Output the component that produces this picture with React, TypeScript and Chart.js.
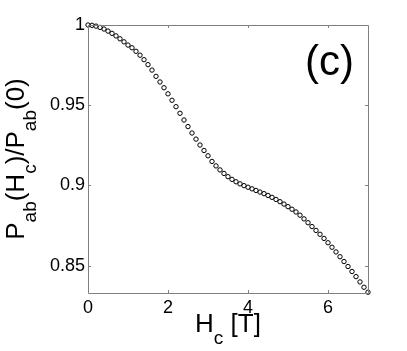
import React, { useEffect, useRef } from "react";
import { Chart, registerables } from "chart.js";

Chart.register(...registerables);

const fieldH: number[] = [
  0.0, 0.1, 0.2, 0.3, 0.4, 0.5, 0.6, 0.7, 0.8, 0.9,
  1.0, 1.1, 1.2, 1.3, 1.4, 1.5, 1.6, 1.7, 1.8, 1.9,
  2.0, 2.1, 2.2, 2.3, 2.4, 2.5, 2.6, 2.7, 2.8, 2.9,
  3.0, 3.1, 3.2, 3.3, 3.4, 3.5, 3.6, 3.7, 3.8, 3.9,
  4.0, 4.1, 4.2, 4.3, 4.4, 4.5, 4.6, 4.7, 4.8, 4.9,
  5.0, 5.1, 5.2, 5.3, 5.4, 5.5, 5.6, 5.7, 5.8, 5.9,
  6.0, 6.1, 6.2, 6.3, 6.4, 6.5, 6.6, 6.7, 6.8, 6.9,
  7.0,
];

const ratioP: number[] = [
  1.0, 0.9998, 0.9993, 0.9985, 0.9975, 0.9962, 0.9948, 0.9932, 0.9914, 0.9895,
  0.9875, 0.9858, 0.9836, 0.9812, 0.9784, 0.9753, 0.9719, 0.968, 0.9645, 0.9609,
  0.9571, 0.9531, 0.9491, 0.945, 0.9408, 0.9367, 0.9327, 0.9289, 0.9252, 0.9218,
  0.9185, 0.915, 0.9122, 0.9097, 0.9075, 0.9055, 0.9038, 0.9023, 0.901, 0.8999,
  0.8989, 0.8979, 0.8969, 0.8959, 0.8949, 0.8938, 0.8926, 0.8913, 0.8899, 0.8884,
  0.8868, 0.8852, 0.8835, 0.8815, 0.8792, 0.8768, 0.8744, 0.872, 0.8696, 0.867,
  0.8643, 0.8615, 0.8586, 0.8556, 0.8526, 0.8495, 0.8464, 0.8432, 0.8399, 0.8366,
  0.8335,
];

const xTicks: number[] = [0, 2, 4, 6];
const yTicks: number[] = [0.85, 0.9, 0.95, 1];
const yTickLabels: string[] = ["0.85", "0.9", "0.95", "1"];
const panelLabel = "(c)";

const FONT = "'Liberation Sans', Arial, Helvetica, sans-serif";
const AXIS_GRAY = "#808080";

type Seg = { t: string; sub?: boolean };

function drawSegs(ctx: CanvasRenderingContext2D, segs: Seg[], cx: number, cy: number, rotate: boolean) {
  const main = `26px ${FONT}`;
  const sub = `19px ${FONT}`;
  let total = 0;
  const widths = segs.map((s) => {
    ctx.font = s.sub ? sub : main;
    const w = ctx.measureText(s.t).width;
    total += w;
    return w;
  });
  ctx.save();
  ctx.translate(cx, cy);
  if (rotate) ctx.rotate(-Math.PI / 2);
  ctx.fillStyle = "#000";
  ctx.textBaseline = "alphabetic";
  ctx.textAlign = "left";
  let x = -total / 2;
  segs.forEach((s, i) => {
    ctx.font = s.sub ? sub : main;
    ctx.fillText(s.t, x, s.sub ? 12 : 0);
    x += widths[i];
  });
  ctx.restore();
}

const framePlugin = {
  id: "frame",
  afterDraw(chart: any) {
    const { ctx, chartArea, scales } = chart;
    const { left, right, top, bottom } = chartArea;
    ctx.save();
    ctx.strokeStyle = AXIS_GRAY;
    ctx.lineWidth = 1;
    ctx.beginPath();
    ctx.rect(Math.round(left) + 0.5, Math.round(top) + 0.5, Math.round(right - left), Math.round(bottom - top));
    ctx.stroke();
    const tl = 3;
    ctx.beginPath();
    scales.x.ticks.forEach((t: any) => {
      const px = Math.round(scales.x.getPixelForValue(t.value)) + 0.5;
      ctx.moveTo(px, bottom);
      ctx.lineTo(px, bottom - tl);
      ctx.moveTo(px, top);
      ctx.lineTo(px, top + tl);
    });
    scales.y.ticks.forEach((t: any) => {
      const py = Math.round(scales.y.getPixelForValue(t.value)) + 0.5;
      ctx.moveTo(left, py);
      ctx.lineTo(left + tl, py);
      ctx.moveTo(right, py);
      ctx.lineTo(right - tl, py);
    });
    ctx.stroke();
    ctx.restore();

    // axis titles
    drawSegs(ctx, [{ t: "H" }, { t: "c", sub: true }, { t: " [T]" }], (left + right) / 2, 332, false);
    drawSegs(
      ctx,
      [
        { t: "P" },
        { t: "ab", sub: true },
        { t: "(H" },
        { t: "c", sub: true },
        { t: ")/P" },
        { t: "ab", sub: true },
        { t: "(0)" },
      ],
      24,
      (top + bottom) / 2,
      true
    );

    // panel label
    ctx.save();
    ctx.font = `42px ${FONT}`;
    ctx.fillStyle = "#000";
    ctx.textBaseline = "alphabetic";
    ctx.textAlign = "left";
    ctx.fillText(panelLabel, 305, 75);
    ctx.restore();
  },
};

export default function App() {
  const ref = useRef<HTMLCanvasElement | null>(null);
  useEffect(() => {
    if (!ref.current) return;
    const chart = new Chart(ref.current, {
      type: "scatter",
      data: {
        datasets: [
          {
            data: fieldH.map((h, i) => ({ x: h, y: ratioP[i] })),
            pointStyle: "circle",
            pointRadius: 2.2,
            pointBorderWidth: 1,
            pointBorderColor: "#000",
            pointBackgroundColor: "rgba(255,255,255,0)",
            showLine: false,
            clip: false,
          } as any,
        ],
      },
      options: {
        responsive: false,
        animation: false,
        events: [],
        layout: { padding: { left: 0, top: 25, right: 39, bottom: 0 } },
        plugins: { legend: { display: false }, tooltip: { enabled: false }, title: { display: false } },
        scales: {
          x: {
            type: "linear",
            min: 0,
            max: 7,
            afterBuildTicks: (s: any) => {
              s.ticks = xTicks.map((v) => ({ value: v }));
            },
            afterFit: (s: any) => {
              s.height = 58;
            },
            grid: { display: false, drawTicks: false },
            border: { display: false },
            ticks: {
              padding: 4,
              color: "#000",
              font: { family: FONT, size: 18 },
              maxRotation: 0,
              callback: (v: any) => String(v),
            },
          },
          y: {
            type: "linear",
            min: 0.833,
            max: 1,
            afterBuildTicks: (s: any) => {
              s.ticks = yTicks.map((v) => ({ value: v }));
            },
            afterFit: (s: any) => {
              s.width = 88;
            },
            grid: { display: false, drawTicks: false },
            border: { display: false },
            ticks: {
              padding: 3,
              color: "#000",
              font: { family: FONT, size: 18 },
              callback: (v: any) => {
                const i = yTicks.findIndex((t) => Math.abs(t - Number(v)) < 1e-9);
                return i >= 0 ? yTickLabels[i] : "";
              },
            },
          },
        },
      } as any,
      plugins: [framePlugin],
    });
    return () => chart.destroy();
  }, []);
  return (
    <div style={{ position: "absolute", left: 0, top: 0, width: 407, height: 351, background: "#fff" }}>
      <canvas ref={ref} width={407} height={351} style={{ display: "block", width: 407, height: 351 }} />
    </div>
  );
}
